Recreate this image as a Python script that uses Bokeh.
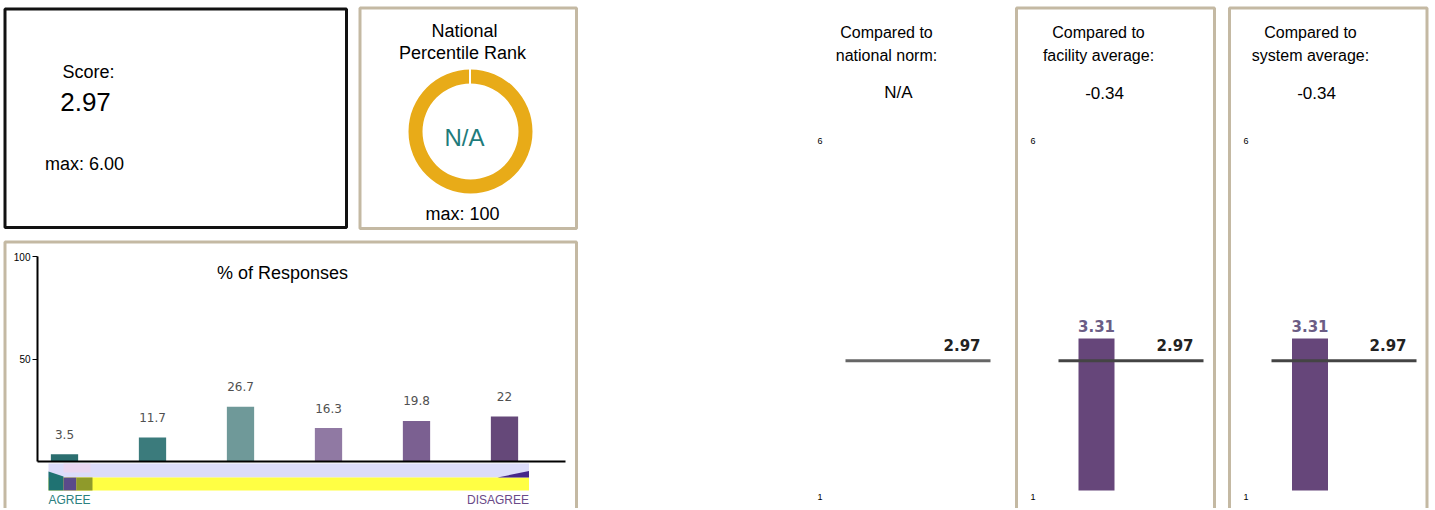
from bokeh.plotting import figure
from bokeh.models import Range1d, LinearAxis, FixedTicker
from bokeh.core.properties import value
from bokeh.embed import file_html
from bokeh.resources import INLINE

# ---------------- data ----------------
score = 2.97
score_max = "6.00"
rank_text = "N/A"
rank_max = 100
response_index = [0, 1, 2, 3, 4, 5]
response_pct = [3.5, 11.7, 26.7, 16.3, 19.8, 22]
response_colors = ["#2b6e6f", "#3b7b7c", "#6f9999", "#9079a3", "#7b6091", "#654879"]
pct_ticks = [50, 100]
scale_ticks = [1, 6]
compare_titles = [["Compared to", "national norm:"],
                  ["Compared to", "facility average:"],
                  ["Compared to", "system average:"]]
compare_diffs = ["N/A", "-0.34", "-0.34"]
compare_avgs = [None, 3.31, 3.31]

# ---------------- layout (window pixel space) ----------------
W, H = 1430, 508
LEFT, RIGHT, TOP, BOTTOM = 0, W, 0, H
TAN = "#c4b9a3"
ARIAL = value("Liberation Sans")
VERD = value("DejaVu Sans")


def lin_range(v1, p1, v2, p2, lo, hi):
    s = (v2 - v1) / (p2 - p1)
    return Range1d(start=v1 + (lo - p1) * s, end=v1 + (hi - p1) * s)


p = figure(width=W, height=H, x_range=Range1d(LEFT, RIGHT), y_range=Range1d(BOTTOM, TOP),
           x_axis_type=None, y_axis_type=None, output_backend="svg",
           toolbar_location=None, min_border=0, outline_line_color=None)
p.background_fill_color = "white"
p.border_fill_color = "white"

p.extra_x_ranges = {"bx": lin_range(0, 64, 1, 152, LEFT, RIGHT)}
p.extra_y_ranges = {
    "pct": lin_range(0, 461, 100, 256, BOTTOM, TOP),
    "score": lin_range(1, 490, 3.31, 338, BOTTOM, TOP),
    "lab": lin_range(1, 496, 6, 140, BOTTOM, TOP),
}


def txt(x, y, s, size, color="#000000", align="center", font=ARIAL, style="normal", **kw):
    p.text(x=[x], y=[y], text=[s], text_font=font, text_font_size=f"{size}px",
           text_color=color, text_align=align, text_baseline="middle",
           text_font_style=style, **kw)


def box(l, r, t, b, color, w=3):
    p.quad(left=[l], right=[r], top=[t], bottom=[b], fill_color=None,
           line_color=color, line_width=w)


# ---------------- score box ----------------
box(4.5, 346, 8.5, 227, "#111111")
txt(88, 71, "Score:", 18)
txt(85, 101, f"{score:.2f}", 26)
txt(84, 163, f"max: {score_max}", 18)

# ---------------- percentile rank box ----------------
box(359.5, 576, 7.5, 228, TAN)
txt(464, 30, "National", 18)
txt(462, 52, "Percentile Rank", 18)
p.annulus(x=[470], y=[131], inner_radius=48, outer_radius=62,
          inner_radius_units="screen", outer_radius_units="screen",
          fill_color="#e8ab18", line_color=None)
p.segment(x0=[469.5], y0=[66], x1=[469.5], y1=[84], line_color="white", line_width=2)
txt(464, 137, rank_text, 24, color="#1f7b7b")
txt(462, 213, f"max: {rank_max}", 18)

# ---------------- % of responses box ----------------
box(4.5, 576, 241.5, 530, TAN)
txt(282, 272, "% of Responses", 18)

# decorative scale strip under the bars
p.quad(left=[48], right=[528.5], top=[463], bottom=[477], fill_color="#dcdcfa", line_color=None)
p.quad(left=[48], right=[528.5], top=[477], bottom=[490], fill_color="#ffff44", line_color=None)
p.patch(x=[48, 63, 63, 48], y=[471, 476, 490, 490], fill_color="#1f7272", line_color=None)
p.quad(left=[63], right=[76], top=[477], bottom=[490], fill_color="#5a4a8a", line_color=None)
p.quad(left=[76], right=[92], top=[477], bottom=[490], fill_color="#8f9a2a", line_color=None)
p.quad(left=[63], right=[90], top=[463], bottom=[472], fill_color="#ead6f0", line_color=None)
p.patch(x=[497, 528.5, 528.5], y=[477, 470.5, 477], fill_color="#46288a", line_color=None)
txt(48, 499, "AGREE", 12, color="#2a8080", align="left")
txt(528.5, 499, "DISAGREE", 12, color="#6a4a88", align="right")

p.vbar(x=response_index, top=response_pct, bottom=0, width=0.31,
       x_range_name="bx", y_range_name="pct",
       fill_color=response_colors, line_color=None)
p.text(x=response_index, y=response_pct, text=[f"{v:g}" for v in response_pct],
       x_range_name="bx", y_range_name="pct", y_offset=-20,
       text_font=VERD, text_font_size="12px", text_color="#505050",
       text_align="center", text_baseline="middle")

yax = LinearAxis(y_range_name="pct", ticker=FixedTicker(ticks=pct_ticks),
                 fixed_location=37, bounds=(0, 100))
yax.axis_line_width = 2
yax.axis_line_color = "#000000"
yax.major_tick_out = 5
yax.major_tick_in = 0
yax.major_tick_line_width = 1
yax.minor_tick_line_color = None
yax.major_label_standoff = 2
yax.major_label_text_font = "Liberation Sans"
yax.major_label_text_font_size = "10px"
yax.major_label_text_color = "#000000"
p.add_layout(yax, "left")

xax = LinearAxis(x_range_name="bx", y_range_name="pct", fixed_location=0,
                 ticker=FixedTicker(ticks=[]), bounds=((37 - 64) / 88, (565 - 64) / 88))
xax.axis_line_width = 2
xax.axis_line_color = "#000000"
xax.major_tick_line_color = None
xax.minor_tick_line_color = None
xax.major_label_text_font_size = "0px"
p.add_layout(xax, "below")

# ---------------- comparison panels ----------------
box(1016, 1214, 7.5, 530, TAN)
box(1229, 1426.5, 7.5, 530, TAN)

title_cx = [886, 1098, 1310]
diff_cx = [898, 1104, 1316]
line_x = [(845, 990), (1058, 1203), (1271, 1416)]
line_colors = ["#666666", "#444444", "#444444"]
bar_cx = [None, 1096, 1309.5]
axis_x = [824, 1037, 1250]

for i in range(3):
    txt(title_cx[i], 32, compare_titles[i][0], 16)
    txt(title_cx[i], 55, compare_titles[i][1], 16)
    txt(diff_cx[i], 92, compare_diffs[i], 17)

    if compare_avgs[i] is not None:
        p.vbar(x=[bar_cx[i]], top=[compare_avgs[i]], bottom=1, width=36,
               y_range_name="score", fill_color="#66467a", line_color=None)
        p.text(x=[bar_cx[i]], y=[compare_avgs[i]], text=[f"{compare_avgs[i]:.2f}"],
               y_range_name="score", y_offset=-13,
               text_font=VERD, text_font_size="15px", text_font_style="bold",
               text_color="#6b5d85", text_align="center", text_baseline="middle")

    x0, x1 = line_x[i]
    p.segment(x0=[x0], y0=[score], x1=[x1], y1=[score], y_range_name="score",
              line_color=line_colors[i], line_width=3)
    p.text(x=[x1 - 10], y=[score], text=[f"{score:.2f}"], y_range_name="score",
           y_offset=-16, text_font=VERD, text_font_size="15px", text_font_style="bold",
           text_color="#222222", text_align="right", text_baseline="middle")

    ax = LinearAxis(y_range_name="lab", ticker=FixedTicker(ticks=scale_ticks),
                    fixed_location=axis_x[i])
    ax.axis_line_color = None
    ax.major_tick_line_color = None
    ax.minor_tick_line_color = None
    ax.major_tick_out = 0
    ax.major_tick_in = 0
    ax.major_label_standoff = 2
    ax.major_label_text_font = "Liberation Sans"
    ax.major_label_text_font_size = "9px"
    ax.major_label_text_color = "#000000"
    p.add_layout(ax, "left")

open("out.html", "w").write(file_html(p, INLINE))
